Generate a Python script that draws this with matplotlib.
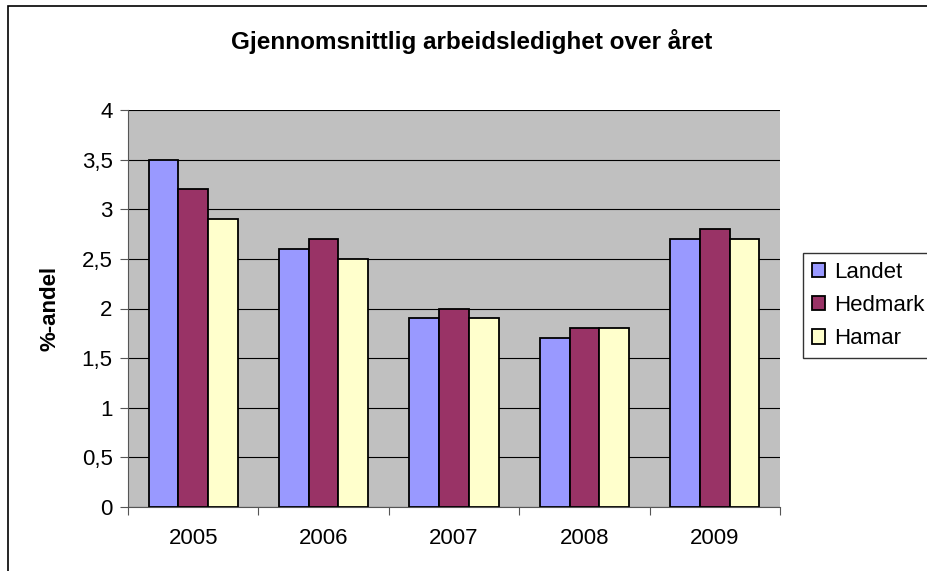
import matplotlib.pyplot as plt
import numpy as np
from matplotlib.patches import Rectangle

# data
years = ["2005", "2006", "2007", "2008", "2009"]
landet = [3.5, 2.6, 1.9, 1.7, 2.7]
hedmark = [3.2, 2.7, 2.0, 1.8, 2.8]
hamar = [2.9, 2.5, 1.9, 1.8, 2.7]
series_names = ["Landet", "Hedmark", "Hamar"]
series_colors = ["#9999FF", "#993366", "#FFFFCC"]
yticks = [0, 0.5, 1, 1.5, 2, 2.5, 3, 3.5, 4]
ytick_labels = ["0", "0,5", "1", "1,5", "2", "2,5", "3", "3,5", "4"]

plt.rcParams['font.family'] = ['Liberation Sans', 'DejaVu Sans']

fig = plt.figure(figsize=(9.27, 5.71), dpi=100)
ax = fig.add_axes([128/927, 64/571, 652/927, 397/571])
ax.set_facecolor("#C0C0C0")

x = np.arange(len(years))
w = 0.228
for i, (vals, name, col) in enumerate(zip([landet, hedmark, hamar], series_names, series_colors)):
    ax.bar(x + (i - 1) * w, vals, w, color=col, edgecolor="black", linewidth=1.3,
           label=name, zorder=3)

ax.set_xlim(-0.5, len(years) - 0.5)
ax.set_ylim(0, 4)
ax.set_yticks(yticks)
ax.set_yticklabels(ytick_labels, fontsize=16)
ax.yaxis.grid(True, color="black", linewidth=0.8, zorder=1)
ax.set_axisbelow(True)

# category labels centred, ticks between categories
ax.set_xticks(np.arange(-0.5, len(years)), minor=False)
ax.set_xticklabels([])
ax.set_xticks(x, minor=True)
ax.set_xticklabels(years, minor=True, fontsize=16)
ax.tick_params(axis="x", which="minor", length=0, pad=15)
ax.tick_params(axis="x", which="major", length=6, direction="out", color="#555555")
ax.tick_params(axis="y", length=6, direction="out", color="#555555", pad=5)

for s in ["top", "right"]:
    ax.spines[s].set_visible(False)
for s in ["left", "bottom"]:
    ax.spines[s].set_color("#555555")

ax.set_ylabel("%-andel", fontsize=16, fontweight="bold", labelpad=15)
fig.text(472/927, 1 - 42/571, "Gjennomsnittlig arbeidsledighet over året",
         ha="center", va="center", fontsize=17.5, fontweight="bold")

leg = fig.legend(loc="upper left", bbox_to_anchor=(803/927, 1 - 253/571),
                 fontsize=16, frameon=True, fancybox=False, edgecolor="black",
                 handlelength=0.6, handleheight=0.6, handletextpad=0.4,
                 labelspacing=0.55, borderpad=0.4, borderaxespad=0)
leg.get_frame().set_linewidth(1.0)

# chart border
fig.patches.append(Rectangle((8/927, -0.1), 1.2, 1 - 6/571 + 0.1, transform=fig.transFigure,
                             fill=False, edgecolor="black", linewidth=1.2))

fig.savefig("out.png", dpi=100)
